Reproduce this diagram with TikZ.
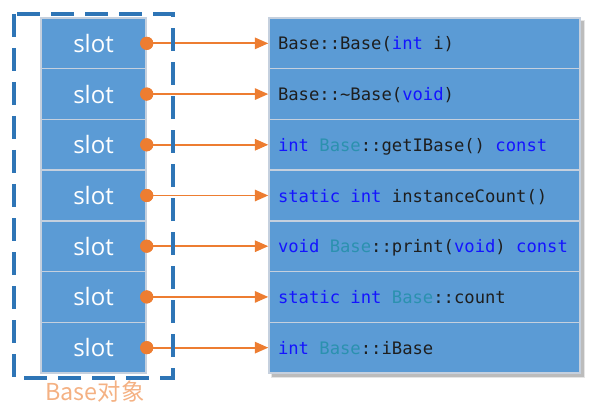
\documentclass[tikz,border=0pt]{standalone}
\usepackage{fontspec}
\setmainfont{Open Sans}
\setmonofont{DejaVu Sans Mono}
\newfontfamily\cjk{Noto Sans CJK SC}
\usetikzlibrary{arrows.meta,shadows}
\definecolor{boxblue}{HTML}{5B9BD5}
\definecolor{sepgray}{HTML}{C5D0DE}
\definecolor{dashblue}{HTML}{2E75B6}
\definecolor{dotorange}{HTML}{ED7D31}
\definecolor{lbl}{HTML}{F4B183}
\definecolor{kwblue}{HTML}{1414FF}
\definecolor{clsteal}{HTML}{2B91AF}
\definecolor{codeblack}{HTML}{1E1E1E}
\newcommand{\kw}[1]{\textcolor{kwblue}{#1}}
\newcommand{\cls}[1]{\textcolor{clsteal}{#1}}
\newcommand{\ws}{\hphantom{x}}
\tikzset{
  slotbox/.style={rectangle, fill=boxblue, draw=sepgray, line width=1.1pt,
    minimum width=78.75pt, minimum height=38.03pt, inner sep=0pt,
    text=white, font=\fontsize{18}{20}\selectfont},
  codebox/.style={rectangle, fill=boxblue, draw=sepgray, line width=1.1pt,
    minimum width=233.25pt, minimum height=38.03pt, inner xsep=6.75pt, inner ysep=0pt,
    text width=219.75pt, align=left, text=codeblack, text depth=0pt,
    font=\ttfamily\fontsize{12.9}{15}\selectfont},
  slotdot/.style={circle, fill=dotorange, minimum size=9.8pt, inner sep=0pt},
  ptrline/.style={draw=dotorange, line width=1.3pt, -{Triangle[length=10pt,width=8.5pt]}},
  objframe/.style={draw=dashblue, line width=2.4pt, dash pattern=on 17pt off 8.5pt},
  objlabel/.style={text=lbl, font=\cjk\fontsize{17.5}{20}\selectfont, inner sep=0pt}
}
\begin{document}
\begin{tikzpicture}[x=0.75pt,y=-0.75pt]
\useasboundingbox (0,0) rectangle (596,417);
% shadow of the function table
\fill[black, opacity=0.18] (272,21) rectangle (584,377);
\fill[black, opacity=0.10] (271,20) rectangle (585,378);
% slots
\foreach \i in {1,...,7}{
  \node[slotbox] (s\i) at (93.5, {18+(\i-0.5)*50.714}) {slot};
}
% function entries
\node[codebox] (f1) at (424.5, {18+0.5*50.714}) {Base::Base(\kw{int}\ws i)};
\node[codebox] (f2) at (424.5, {18+1.5*50.714}) {Base::\textasciitilde Base(\kw{void})};
\node[codebox] (f3) at (424.5, {18+2.5*50.714}) {\kw{int}\ws\cls{Base}::getIBase()\ws\kw{const}};
\node[codebox] (f4) at (424.5, {18+3.5*50.714}) {\kw{static}\ws\kw{int}\ws instanceCount()};
\node[codebox] (f5) at (424.5, {18+4.5*50.714}) {\kw{void}\ws\cls{Base}::print(\kw{void})\ws\kw{const}};
\node[codebox] (f6) at (424.5, {18+5.5*50.714}) {\kw{static}\ws\kw{int}\ws\cls{Base}::count};
\node[codebox] (f7) at (424.5, {18+6.5*50.714}) {\kw{int}\ws\cls{Base}::iBase};
% pointers
\foreach \i in {1,...,7}{
  \node[slotdot] (d\i) at (s\i.east) {};
  \draw[ptrline] (d\i.center) -- (f\i.west);
  \node[slotdot] at (s\i.east) {};
}
% object frame
\node[draw=none, minimum width=0pt, inner sep=0pt] (tl) at (14,14) {};
\node[draw=none, minimum width=0pt, inner sep=0pt] (br) at (173,378) {};
\draw[objframe] (tl.center) rectangle (br.center);
\node[objlabel] (lab) at (95,392) {Base对象};
\end{tikzpicture}
\end{document}
